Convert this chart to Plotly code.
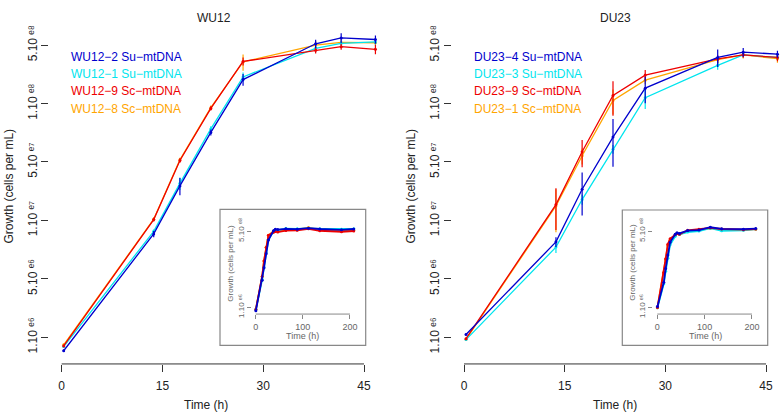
import numpy as np
import plotly.graph_objects as go

W, H = 782, 419

# ---------------- data (cells per mL) ----------------
times = [0.3, 13.7, 17.6, 22.2, 27.0, 37.8, 41.6, 46.7]
late_times = [64, 88, 112, 136, 182, 208]

# WU12
wu12_names = ["WU12−2 Su−mtDNA", "WU12−1 Su−mtDNA", "WU12−9 Sc−mtDNA", "WU12−8 Sc−mtDNA"]
wu12_2 = [7.5e5, 9.0e6, 2.50e7, 7.8e7, 2.40e8, 5.14e8, 5.82e8, 5.63e8]
wu12_1 = [8.2e5, 9.5e6, 2.64e7, 8.4e7, 2.54e8, 4.67e8, 5.18e8, 5.35e8]
wu12_9 = [8.3e5, 1.22e7, 4.29e7, 1.30e8, 3.53e8, 4.48e8, 4.83e8, 4.57e8]
wu12_8 = [8.5e5, 1.23e7, 4.36e7, 1.32e8, 3.49e8, 5.00e8, 5.29e8, 5.25e8]
wu12_2_sd = [2e4, 6e5, 4.5e6, 5e6, 3.0e7, 4.5e7, 6e7, 5e7]
wu12_1_sd = [2e4, 4e5, 3.5e6, 5e6, 2.5e7, 4.0e7, 3e7, 3e7]
wu12_9_sd = [2e4, 5e5, 2.0e6, 6e6, 3.0e7, 3.0e7, 3e7, 4.5e7]
wu12_8_sd = [2e4, 5e5, 2.0e6, 6e6, 6.0e7, 4.5e7, 3e7, 3e7]
wu12_2_late = [6.0e8, 5.8e8, 6.3e8, 5.9e8, 5.5e8, 5.9e8]
wu12_1_late = [6.1e8, 6.0e8, 6.2e8, 6.0e8, 5.8e8, 6.0e8]
wu12_9_late = [5.2e8, 5.3e8, 6.0e8, 5.1e8, 4.7e8, 5.0e8]
wu12_8_late = [5.5e8, 5.6e8, 6.6e8, 5.4e8, 5.0e8, 5.3e8]

# DU23
du23_names = ["DU23−4 Su−mtDNA", "DU23−3 Su−mtDNA", "DU23−9 Sc−mtDNA", "DU23−1 Sc−mtDNA"]
du23_4 = [1.06e6, 7.6e6, 2.33e7, 7.06e7, 2.00e8, 3.84e8, 4.30e8, 4.12e8]
du23_3 = [9.5e5, 6.8e6, 1.87e7, 5.46e7, 1.63e8, 3.25e8, 4.06e8, 3.84e8]
du23_9 = [9.7e5, 1.68e7, 5.17e7, 1.71e8, 2.64e8, 3.72e8, 4.06e8, 3.84e8]
du23_1 = [9.55e5, 1.63e7, 4.75e7, 1.54e8, 2.37e8, 3.66e8, 4.06e8, 3.74e8]
du23_4_sd = [2e4, 8e5, 1.0e7, 3.3e7, 5.5e7, 7e7, 4e7, 3e7]
du23_3_sd = [2e4, 8e5, 2.0e6, 5e6, 3.5e7, 3e7, 2e7, 2e7]
du23_9_sd = [2e4, 7e6, 1.45e7, 6e7, 3.0e7, 3e7, 2.5e7, 3e7]
du23_1_sd = [2e4, 7e6, 8e6, 4e7, 2.0e7, 3e7, 3e7, 3e7]
du23_4_late = [5.2e8, 5.4e8, 6.8e8, 6.0e8, 5.8e8, 6.1e8]
du23_3_late = [4.6e8, 5.0e8, 6.3e8, 5.1e8, 5.3e8, 5.9e8]
du23_9_late = [5.3e8, 5.8e8, 6.5e8, 5.9e8, 5.6e8, 5.9e8]
du23_1_late = [4.9e8, 5.5e8, 6.2e8, 5.7e8, 5.5e8, 5.8e8]

colors = ["#0000CD", "#00E5EE", "#EE0000", "#FFA500"]

y_tick_text = ["1.10 ᵉ⁶", "5.10 ᵉ⁶", "1.10 ᵉ⁷", "5.10 ᵉ⁷", "1.10 ᵉ⁸", "5.10 ᵉ⁸"]
inset_tick_text = ["1.10 ᵉ⁶", "5.10 ᵉ⁸"]
x_ticks = [0, 15, 30, 45]
inset_x_ticks = [0, 100, 200]

FONT = "Liberation Sans, Arial, DejaVu Sans, sans-serif"

def px(p):
    return p / W

def py(p):
    return 1 - p / H

fig = go.Figure()

panels = [
    (wu12_names, [wu12_2, wu12_1, wu12_9, wu12_8], [wu12_2_sd, wu12_1_sd, wu12_9_sd, wu12_8_sd],
     [wu12_2_late, wu12_1_late, wu12_9_late, wu12_8_late], "x", "y", "x3", "y3"),
    (du23_names, [du23_4, du23_3, du23_9, du23_1], [du23_4_sd, du23_3_sd, du23_9_sd, du23_1_sd],
     [du23_4_late, du23_3_late, du23_9_late, du23_1_late], "x2", "y2", "x4", "y4"),
]

draw_order = [3, 1, 2, 0]
for names, series, sds, lates, xa, ya, xi, yi in panels:
    for i in draw_order:
        c = colors[i]
        fig.add_trace(go.Scatter(
            x=times, y=series[i], mode="lines+markers", xaxis=xa, yaxis=ya,
            line=dict(color=c, width=1.3), marker=dict(color=c, size=3),
            error_y=dict(type="data", array=sds[i], visible=True, width=0, thickness=1.2, color=c),
            showlegend=False, hoverinfo="skip"))
    for i in draw_order:
        c = colors[i]
        fig.add_trace(go.Scatter(
            x=times + late_times, y=series[i] + lates[i], mode="lines+markers",
            xaxis=xi, yaxis=yi, line=dict(color=c, width=1.8), marker=dict(color=c, size=3),
            showlegend=False, hoverinfo="skip"))

span = np.log10(500)
main_tickvals = [10 ** (6 + k * span / 5) for k in range(6)]
inset_tickvals = [1e6, 5e8]

axis_common = dict(showgrid=False, zeroline=False, showline=False, ticks="outside",
                   tickcolor="#333", tickwidth=1)

main_y = dict(axis_common, type="log", range=[5.753, 8.884], domain=[py(366.7), py(19.5)],
              tickvals=main_tickvals, ticktext=y_tick_text, tickangle=-90, ticklen=7,
              tickfont=dict(family=FONT, size=12, color="#222"))
inset_y = dict(axis_common, type="log", range=[5.755, 8.959], domain=[py(315.6), py(223)],
               tickvals=inset_tickvals, ticktext=inset_tick_text, tickangle=-90, ticklen=4,
               tickcolor="#888", tickfont=dict(family=FONT, size=8, color="#666"))

fig.update_layout(
    width=W, height=H, margin=dict(l=0, r=0, t=0, b=0),
    paper_bgcolor="white", plot_bgcolor="rgba(0,0,0,0)",
    font=dict(family=FONT),
    xaxis=dict(axis_common, range=[-1.84, 48.6], domain=[px(49.3), px(388.2)], anchor="y",
               tickvals=x_ticks, ticklen=7, ticklabelstandoff=4,
               tickfont=dict(family=FONT, size=12, color="#222")),
    yaxis=dict(main_y, anchor="x"),
    xaxis2=dict(axis_common, range=[-1.833, 47.38], domain=[px(451.7), 1.0], anchor="y2",
                tickvals=x_ticks, ticklen=7, ticklabelstandoff=4,
                tickfont=dict(family=FONT, size=12, color="#222")),
    yaxis2=dict(main_y, anchor="x2"),
    xaxis3=dict(axis_common, range=[-8.5, 216.6], domain=[px(251.7), px(357.8)], anchor="y3",
                tickvals=inset_x_ticks, ticklen=4, tickcolor="#888",
                tickfont=dict(family=FONT, size=9, color="#666")),
    yaxis3=dict(inset_y, anchor="x3"),
    xaxis4=dict(axis_common, range=[-8.5, 216.6], domain=[px(653.3), px(759.8)], anchor="y4",
                tickvals=inset_x_ticks, ticklen=4, tickcolor="#888",
                tickfont=dict(family=FONT, size=9, color="#666")),
    yaxis4=dict(inset_y, anchor="x4"),
)

shapes = []
# R-style axis lines spanning first to last tick
for xa, ya in [("x", "y"), ("x2", "y2")]:
    shapes.append(dict(type="line", xref=xa, yref=ya + " domain", x0=0, x1=45, y0=0, y1=0,
                       line=dict(color="#333", width=1)))
    shapes.append(dict(type="line", xref=xa + " domain", yref=ya, x0=0, x1=0,
                       y0=6, y1=6 + span, line=dict(color="#333", width=1)))
for xa, ya in [("x3", "y3"), ("x4", "y4")]:
    shapes.append(dict(type="line", xref=xa, yref=ya + " domain", x0=0, x1=200, y0=0, y1=0,
                       line=dict(color="#888", width=1)))
    shapes.append(dict(type="line", xref=xa + " domain", yref=ya, x0=0, x1=0,
                       y0=6, y1=6 + span, line=dict(color="#888", width=1)))
# inset boxes
for (x0, x1, y0, y1) in [(220, 365.7, 208.3, 347.7), (622.3, 767.7, 209, 347.7)]:
    shapes.append(dict(type="rect", xref="paper", yref="paper", x0=px(x0), x1=px(x1),
                       y0=py(y1), y1=py(y0), line=dict(color="#888", width=1.2), layer="below"))
fig.update_layout(shapes=shapes)

ann = []
def text(x, y, s, size=12, color="#222", angle=0, xanchor="center"):
    ann.append(dict(x=px(x), y=py(y), xref="paper", yref="paper", text=s, showarrow=False,
                    xanchor=xanchor, yanchor="middle", textangle=angle,
                    font=dict(family=FONT, size=size, color=color)))

# titles
text(213.5, 12, "WU12")
text(615, 12, "DU23")
# axis titles
text(206, 409, "Time (h)")
text(615, 409, "Time (h)")
text(9, 185, "Growth (cells per mL)", angle=-90)
text(411, 185, "Growth (cells per mL)", angle=-90)
# inset axis titles
text(302.8, 338, "Time (h)", size=9, color="#666")
text(705, 338, "Time (h)", size=9, color="#666")
text(231, 263, "Growth (cells per mL)", size=8, color="#666", angle=-90)
text(633, 263, "Growth (cells per mL)", size=8, color="#666", angle=-90)
# legends
legend_y = [52, 69.5, 87.5, 105.5]
for i in range(4):
    text(69, legend_y[i], wu12_names[i], size=12, color=colors[i], xanchor="left")
    text(471.5, legend_y[i], du23_names[i], size=12, color=colors[i], xanchor="left")
fig.update_layout(annotations=ann)

fig.write_html("out.html", config={"displayModeBar": False},
               post_script="document.body.style.margin='0';document.body.style.overflow='hidden';")
